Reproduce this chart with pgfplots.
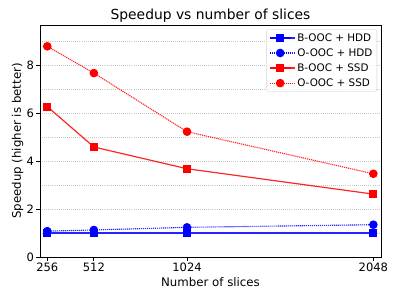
\documentclass[border=0pt]{standalone}
\usepackage{pgfplots}
\pgfplotsset{compat=1.18}
\usepackage{fontspec}
\setmainfont{DejaVu Sans}
\definecolor{mblue}{RGB}{0,0,255}
\definecolor{mred}{RGB}{255,0,0}
\begin{document}
\begin{tikzpicture}
\path[use as bounding box] (-46.2pt,-48.8pt) rectangle (414.6pt,296.8pt);
\begin{axis}[
  scale only axis,
  width=393.8pt, height=267.9pt,
  at={(0,0)}, anchor=south west,
  xmin=216, xmax=2090, ymin=0, ymax=9.7,
  xtick={256,512,1024,2048},
  xticklabels={256,512,1024,2048},
  ytick={0,2,4,6,8},
  minor ytick={1,3,5,7,9},
  ymajorgrids, yminorgrids,
  major grid style={gray!45, dotted, line width=0.8pt},
  minor grid style={gray!45, dotted, line width=0.8pt},
  tick align=outside,
  major tick length=4.5pt,
  minor tick length=0pt,
  xtick pos=bottom, ytick pos=left,
  tick style={black, line width=0.9pt},
  axis line style={line width=1pt},
  /pgf/number format/assume math mode=true,
  ticklabel style={font=\fontsize{13.3}{15}\selectfont},
  xticklabel style={yshift=1pt},
  yticklabel style={xshift=1pt},
  xlabel={Number of slices},
  ylabel={Speedup (higher is better)},
  label style={font=\fontsize{13.6}{15}\selectfont},
  xlabel style={yshift=0pt},
  ylabel style={yshift=-3pt},
  title={Speedup vs number of slices},
  title style={font=\fontsize{16}{18}\selectfont, yshift=-7pt},
  legend cell align=left,
  legend style={font=\fontsize{12}{13.5}\selectfont, draw=gray!35, rounded corners=2.5pt, fill=white, fill opacity=0.8, text opacity=1, inner xsep=3pt, inner ysep=2.5pt, row sep=3pt, at={(1,1)}, xshift=-4.6pt, yshift=-5pt, anchor=north east},
  legend image code/.code={
    \path (0pt,0pt) -- (29pt,0pt);
    \draw[#1] (0pt,0pt) -- (24pt,0pt);
    \draw[#1, solid] plot coordinates {(12pt,0pt)};
  },
]
\addplot[mblue, opacity=0.85, line width=1.4pt, mark=square*, mark size=4pt, mark options={solid, opacity=1}] coordinates {(256,1.0) (512,1.0) (1024,1.0) (2048,1.0)};
\addlegendentry{B-OOC + HDD}
\addplot[mblue, opacity=0.85, line width=1.3pt, densely dotted, mark=*, mark size=4.3pt, mark options={solid, opacity=1}] coordinates {(256,1.08) (512,1.13) (1024,1.24) (2048,1.35)};
\addlegendentry{O-OOC + HDD}
\addplot[mred, opacity=0.85, line width=1.4pt, mark=square*, mark size=4pt, mark options={solid, opacity=1}] coordinates {(256,6.29) (512,4.60) (1024,3.69) (2048,2.63)};
\addlegendentry{B-OOC + SSD}
\addplot[mred, opacity=0.85, line width=1.3pt, densely dotted, mark=*, mark size=4.3pt, mark options={solid, opacity=1}] coordinates {(256,8.81) (512,7.69) (1024,5.24) (2048,3.48)};
\addlegendentry{O-OOC + SSD}
\end{axis}
\end{tikzpicture}
\end{document}
